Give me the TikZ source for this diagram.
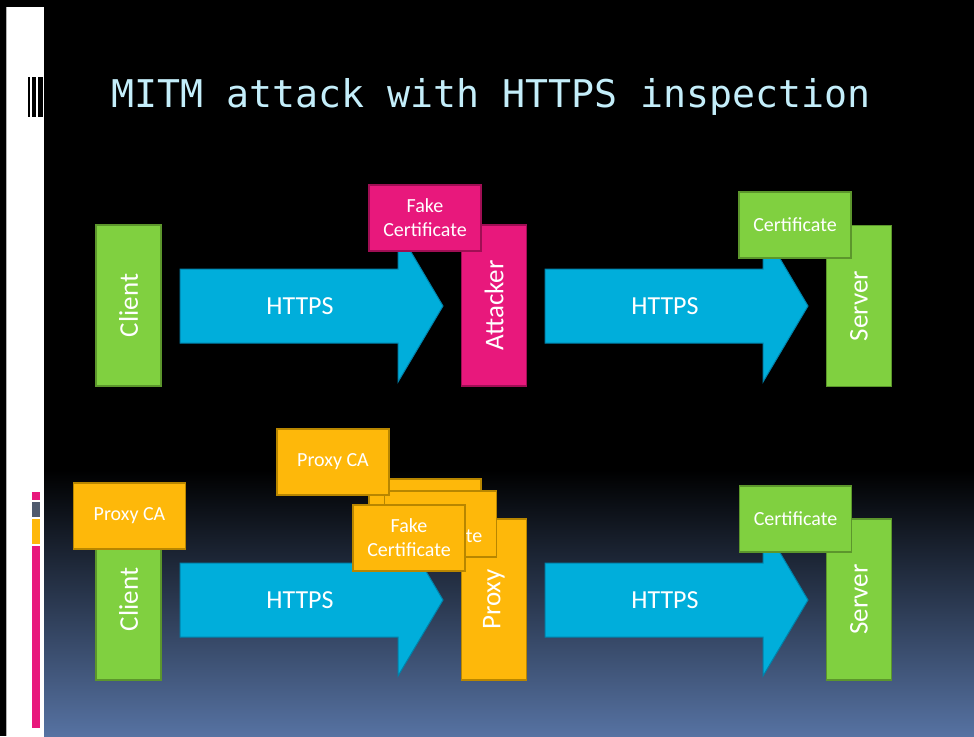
\documentclass[tikz,border=0pt]{standalone}
\usepackage{fontspec}
\setmainfont{Carlito}
\newfontfamily\titlefont{DejaVu Sans Mono}
\definecolor{slidegreen}{RGB}{128,208,64}
\definecolor{slidegreenedge}{RGB}{92,150,44}
\definecolor{slidepink}{RGB}{232,24,124}
\definecolor{slidepinkedge}{RGB}{160,14,84}
\definecolor{slideorange}{RGB}{254,184,10}
\definecolor{slideorangeedge}{RGB}{184,134,0}
\definecolor{slideblue}{RGB}{0,174,219}
\definecolor{slideblueedge}{RGB}{0,130,170}
\definecolor{titlecyan}{RGB}{196,238,250}
\definecolor{bgblue}{RGB}{86,114,162}
\definecolor{barslate}{RGB}{80,90,110}
\tikzset{
  partybox/.style={draw, line width=1.2pt, text=white, inner sep=0pt,
    rotate=90, minimum width=161pt, minimum height=65pt,
    font=\fontsize{27}{30}\selectfont},
  cardbox/.style={draw, line width=1.2pt, text=white, inner sep=0pt,
    minimum width=112pt, minimum height=66pt, align=center,
    font=\fontsize{20}{24}\selectfont},
  greenfill/.style={fill=slidegreen, draw=slidegreenedge},
  pinkfill/.style={fill=slidepink, draw=slidepinkedge},
  orangefill/.style={fill=slideorange, draw=slideorangeedge},
  blockarrow/.style={fill=slideblue, draw=slideblueedge, line width=1pt},
  arrowlabel/.style={text=white, font=\fontsize{26}{30}\selectfont}
}
% block arrow: body from x=#1, tip at x=#2, centred on y=#3
\newcommand{\httpsarrow}[4]{%
  \draw[blockarrow] (#1,#3-37) -- (#2-45,#3-37) -- (#2-45,#3-76)
    -- (#2,#3) -- (#2-45,#3+76) -- (#2-45,#3+37) -- (#1,#3+37) -- cycle;
  \node[arrowlabel] (#4) at (#1+120,#3) {HTTPS};
}
\begin{document}
\begin{tikzpicture}[x=1pt,y=-1pt]
\useasboundingbox (0,0) rectangle (974,736);
% page and slide background
\fill[black] (0,0) rectangle (974,736);
\fill[white] (7,7) rectangle (44,736);
\fill[gray!60] (6,7) rectangle (7,736);
\shade[top color=black, bottom color=bgblue] (44,470) rectangle (974,736);
% side strip decorations
\fill[black] (28,77) rectangle (29.5,117);
\fill[black] (32,77) rectangle (36,117);
\fill[black] (38,77) rectangle (43,117);
\fill[slidepink] (32,492) rectangle (40,499.5);
\fill[barslate] (32,502) rectangle (40,516.5);
\fill[slideorange] (32,519) rectangle (40,544);
\fill[slidepink] (32,546) rectangle (40,728);
% title
\node[anchor=base west, inner sep=0pt, text=titlecyan,
  font=\titlefont\fontsize{38.2}{44}\selectfont] (title) at (111,107)
  {MITM attack with HTTPS inspection};

% ---- plain MITM attack ----
\node[partybox, greenfill] (client1) at (128.5,305.5) {Client};
\httpsarrow{180}{443}{306}{link1a}
\node[partybox, pinkfill] (attacker) at (494,305.5) {Attacker};
\node[cardbox, pinkfill] (fakecert1) at (425,218) {Fake\\Certificate};
\httpsarrow{545}{808}{306}{link1b}
\node[partybox, greenfill] (server1) at (859,306) {Server};
\node[cardbox, greenfill] (cert1) at (795,225) {Certificate};

% ---- HTTPS inspection proxy ----
\node[partybox, greenfill] (client2) at (128.5,599.5) {Client};
\node[cardbox, orangefill] (proxyca1) at (129.5,516) {Proxy CA};
\httpsarrow{180}{443}{600}{link2a}
\node[partybox, orangefill] (proxy) at (494,599.5) {Proxy};
% stack of forged certificates, back to front
\node[cardbox, orangefill] (fakecert2) at (425,512) {};
\node[cardbox, orangefill] (fakecert3) at (440.5,524) {Fake\\Certificate};
\node[cardbox, orangefill] (proxyca2) at (333,462) {Proxy CA};
\node[cardbox, orangefill] (fakecert4) at (409,538) {Fake\\Certificate};
\httpsarrow{545}{808}{600}{link2b}
\node[partybox, greenfill] (server2) at (859,599.5) {Server};
\node[cardbox, greenfill] (cert2) at (795.5,519) {Certificate};
\end{tikzpicture}
\end{document}
